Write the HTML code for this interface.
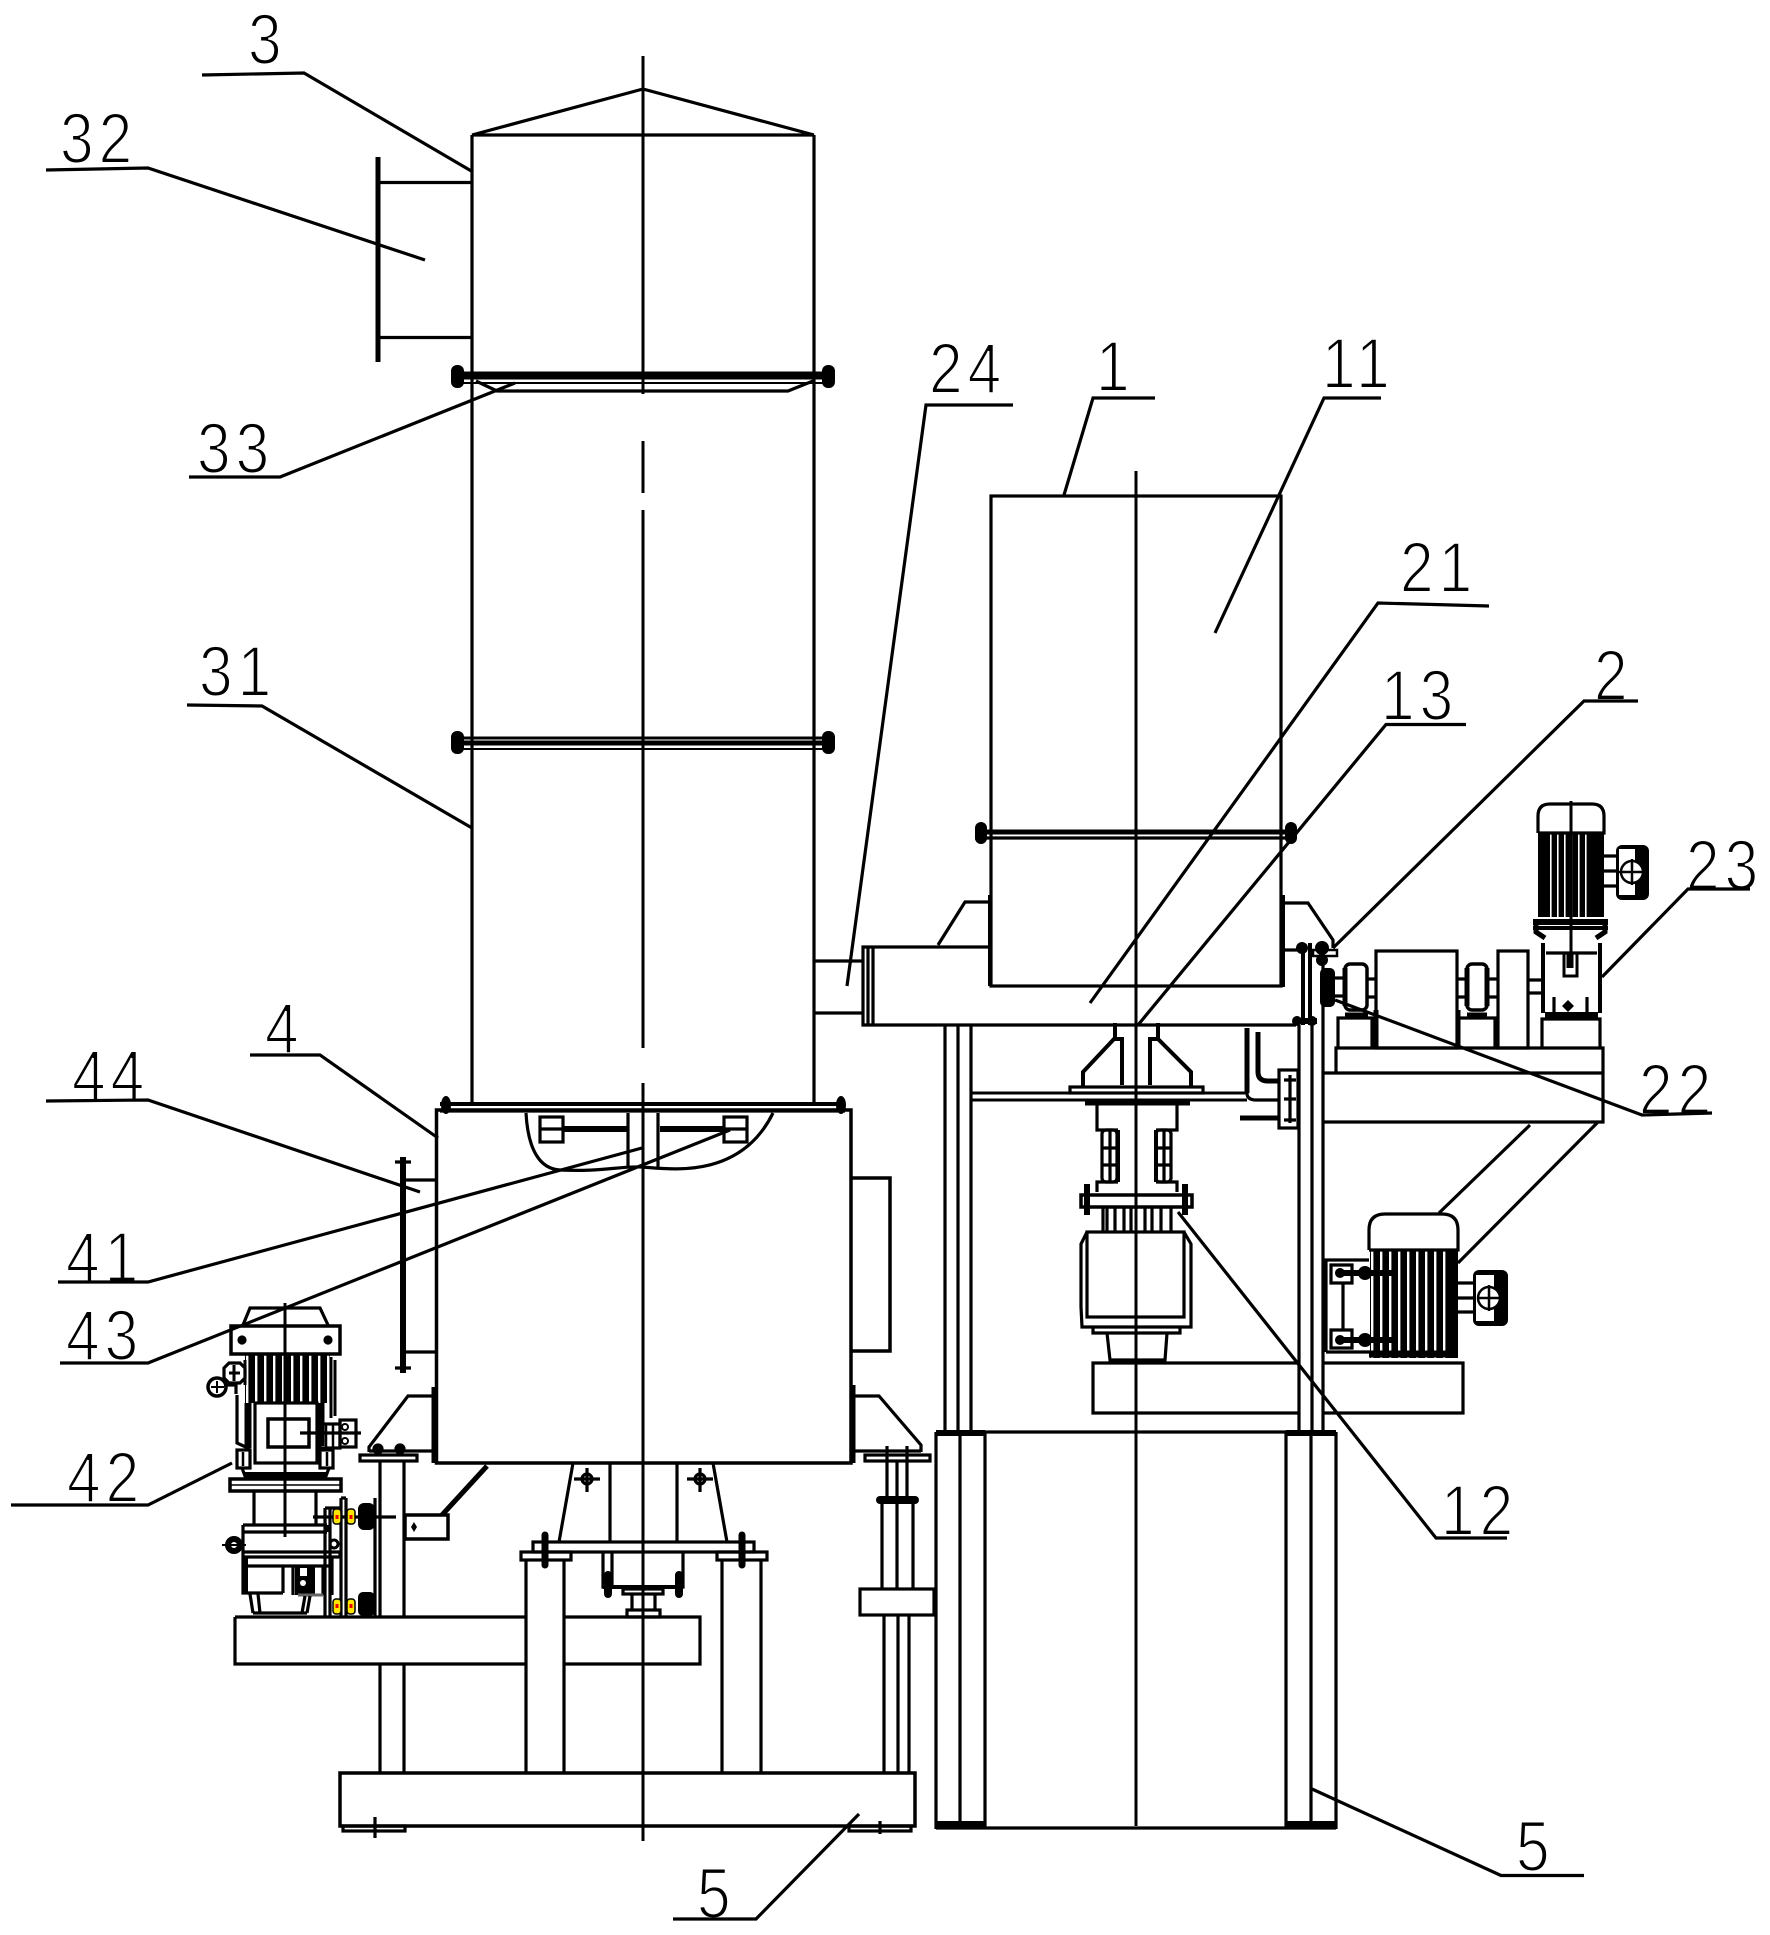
<!DOCTYPE html>
<html><head><meta charset="utf-8"><title>Diagram</title>
<style>html,body{margin:0;padding:0;background:#fff}svg{display:block}
text{font-family:"Liberation Sans",sans-serif;font-size:71px;fill:#000;stroke:#fff;stroke-width:2px;letter-spacing:6px}</style></head>
<body>
<svg xmlns="http://www.w3.org/2000/svg" width="1770" height="1935" viewBox="0 0 1770 1935">
<defs>
<pattern id="fin" width="9" height="10" patternUnits="userSpaceOnUse"><rect width="9" height="10" fill="#000"/><rect x="3" width="2.4" height="10" fill="#fff"/></pattern>
<pattern id="fin2" width="7" height="10" patternUnits="userSpaceOnUse"><rect width="7" height="10" fill="#000"/><rect x="3" width="1.6" height="10" fill="#fff"/></pattern>
</defs>
<rect width="1770" height="1935" fill="#fff"/>
<!-- labels -->
<g>
<text transform="translate(248,64) scale(.85,1)">3</text>
<text transform="translate(60,163) scale(.85,1)">32</text>
<text transform="translate(197,473) scale(.85,1)">33</text>
<text transform="translate(929,393) scale(.85,1)">24</text>
<text transform="translate(1096,391) scale(.85,1)">1</text>
<text transform="translate(1322,388) scale(.85,1)">11</text>
<text transform="translate(1400,592) scale(.85,1)">21</text>
<text transform="translate(1381,720) scale(.85,1)">13</text>
<text transform="translate(1594,700) scale(.85,1)">2</text>
<text transform="translate(1686,890) scale(.85,1)">23</text>
<text transform="translate(1639,1114) scale(.85,1)">22</text>
<text transform="translate(199,696) scale(.85,1)">31</text>
<text transform="translate(265,1053) scale(.85,1)">4</text>
<text transform="translate(72,1100) scale(.85,1)">44</text>
<text transform="translate(66,1282) scale(.85,1)">41</text>
<text transform="translate(66,1360) scale(.85,1)">43</text>
<text transform="translate(67,1502) scale(.85,1)">42</text>
<text transform="translate(1441,1535) scale(.85,1)">12</text>
<text transform="translate(697,1918) scale(.85,1)">5</text>
<text transform="translate(1516,1871) scale(.85,1)">5</text>
</g>
<g fill="none" stroke="#000" stroke-width="3.2">
<!-- tower -->
<path d="M472,135V1105M814,135V1105M472,135H814M472,135L643,89L814,135"/>
<path d="M472,182.5H380M472,337.5H380"/>
<path d="M378,157V362" stroke-width="5"/>
<path d="M455,373H832" stroke-width="3"/><path d="M455,377H832" stroke-width="5"/><path d="M455,383H832" stroke-width="2"/>
<path d="M476,381L497,391H788L813,381"/>
<path d="M455,738H832" stroke-width="3"/><path d="M455,743H832" stroke-width="5"/><path d="M455,749H832" stroke-width="2"/>
<g fill="#000" stroke="none">
<rect x="451" y="365" width="13" height="23" rx="6"/><rect x="822" y="365" width="13" height="23" rx="6"/>
<rect x="451" y="731" width="13" height="23" rx="6"/><rect x="822" y="731" width="13" height="23" rx="6"/>
<rect x="975" y="822" width="12" height="22" rx="6"/><rect x="1285" y="822" width="12" height="22" rx="6"/>
<ellipse cx="446" cy="1105" rx="5" ry="9"/><ellipse cx="841" cy="1105" rx="5" ry="9"/>
</g>
<!-- stub 24 -->
<path d="M814,961H863M814,1013H863"/>
<!-- box 4 -->
<rect x="436.5" y="1110" width="414.5" height="353" stroke-width="3.5"/>
<path d="M440,1104H845" stroke-width="4"/><path d="M440,1111H845"/>
<path d="M526,1113C528,1150 540,1169 560,1170C600,1172 620,1166 642,1167C670,1169 740,1180 773,1113"/>
<rect x="540" y="1117" width="23" height="25"/><rect x="724" y="1117" width="23" height="25"/>
<path d="M540,1129H563M724,1129H747"/>
<path d="M563,1129H628M660,1129H724" stroke-width="6"/>
<path d="M628,1113V1167M658,1113V1167"/>
<path d="M851,1178H890V1351H851" stroke-width="3.5"/>
<path d="M853,1385V1463" stroke-width="5"/>
<path d="M853,1396H879L921,1445V1452M853,1451H921"/>
<rect x="865" y="1455" width="65" height="6"/>
<path d="M887,1446V1497M907,1446V1497M897,1461V1497M882,1503V1590M897,1503V1590M913,1503V1590"/>
<path d="M880,1500H915" stroke-width="8" stroke-linecap="round"/>
<path d="M884,1615V1773M898,1615V1773M909,1615V1773"/>
<rect x="860" y="1589" width="74" height="26"/>
<path d="M434,1387V1463" stroke-width="5"/>
<path d="M434,1396H408L369,1447V1452M369,1451H434"/>
<rect x="360" y="1455" width="57" height="6"/>
<circle cx="378" cy="1449" r="4" fill="#000"/><circle cx="400" cy="1449" r="4" fill="#000"/>
<path d="M380,1461V1617M404,1461V1617M380,1664V1773M404,1664V1773"/>
<!-- rail -->
<path d="M235,1617H526M564,1617H700V1664H564M526,1664H235V1617"/>
<!-- centre supports -->
<path d="M573,1463L559,1542M610,1463V1542M677,1463V1542M713,1463L727,1542"/>
<rect x="533" y="1542" width="221" height="10"/>
<rect x="521" y="1552" width="50" height="8"/><rect x="717" y="1552" width="50" height="8"/>
<path d="M526,1560V1773M564,1560V1773M722,1560V1773M761,1560V1773"/>
<path d="M545,1535V1565M742,1535V1565" stroke-width="7" stroke-linecap="round"/>
<path d="M587,1468V1492M574,1479H600M700,1468V1492M687,1479H713"/><circle cx="587" cy="1479" r="5"/><circle cx="700" cy="1479" r="5"/>
<path d="M603,1552V1587H683V1552M612,1552V1587"/>
<path d="M603,1587H683" stroke-width="4"/>
<path d="M608,1575V1594M679,1575V1594" stroke-width="8" stroke-linecap="round"/>
<rect x="623" y="1589" width="40" height="5"/>
<path d="M632,1594V1610M655,1594V1610"/>
<rect x="627" y="1610" width="33" height="7"/>
<!-- base -->
<rect x="340" y="1773" width="575" height="53" stroke-width="3.5"/>
<rect x="343" y="1826" width="62" height="5"/><rect x="849" y="1826" width="62" height="5"/>
<path d="M375,1817V1838M880,1821V1834"/>
<!-- hopper -->
<rect x="991" y="496" width="290" height="490"/>
<path d="M975,832H1296" stroke-width="5"/><path d="M975,838H1296"/>
<path d="M990,895V986M1283,895V987" stroke-width="4"/>
<path d="M1283,903H1308L1333,940V948M989,902H965L938,945"/>
<!-- trough -->
<path d="M990,947H863V1025H1296M1283,950H1298"/>
<path d="M868,947V1025M873,947V1025"/>
<!-- frame -->
<path d="M945,1025V1430M958,1025V1430M971,1025V1430M1299,1025V1430M1312,1025V1430M1323,950V1430"/>
<path d="M936,1432V1829M960,1432V1829M985,1432V1829M1286,1432V1829M1311,1432V1829M1336,1432V1829"/>
<path d="M936,1432H1336M936,1828H1336"/>
<path d="M936,1433H985M1286,1433H1336M936,1824H985M1286,1824H1336" stroke-width="6"/>
<!-- beam -->
<path d="M971,1093H1203M971,1100H1247M1203,1093H1247" stroke-width="3"/>
<path d="M1247,1028V1093" stroke-width="5"/>
<path d="M1247,1093Q1247,1100 1256,1100H1279"/>
<path d="M1258,1032V1072Q1258,1081 1268,1081H1279" stroke-width="5"/>
<rect x="1279" y="1070" width="19" height="58"/>
<path d="M1290,1075V1123M1284,1080H1296M1284,1099H1296M1284,1120H1296"/>
<path d="M1240,1118H1279" stroke-width="5"/>
<!-- cone -->
<path d="M1115,1023V1039M1158,1023V1039" stroke-width="4"/>
<path d="M1122,1085V1039H1114L1083,1072V1087M1150,1085V1039H1158L1191,1072V1087" stroke-width="4"/>
<rect x="1070" y="1087" width="133" height="6"/>
<path d="M1085,1103H1190" stroke-width="5"/>
<path d="M1118,1130H1097V1103M1156,1130H1177V1103"/>
<rect x="1102" y="1130" width="15" height="52" rx="4"/><rect x="1156" y="1130" width="15" height="52" rx="4"/>
<path d="M1110,1130V1182M1164,1130V1182M1102,1148H1117M1102,1165H1117M1156,1148H1171M1156,1165H1171"/>
<path d="M1118,1130V1182M1156,1130V1182" stroke-width="4"/>
<path d="M1118,1182H1097V1192M1156,1182H1177V1192"/>
<rect x="1081" y="1195" width="111" height="12" stroke-width="3.5"/>
<path d="M1087,1184V1215M1185,1184V1215" stroke-width="6"/>
<path d="M1103,1207V1232M1107,1207V1232M1115,1207V1232M1124,1207V1232M1131,1207V1232M1145,1207V1232M1152,1207V1232M1161,1207V1232M1171,1207V1232"/>
<rect x="1087" y="1232" width="97" height="85"/>
<path d="M1087,1232L1081,1244V1307L1082,1327H1191V1244L1184,1232M1093,1327V1333H1180V1327"/>
<path d="M1107,1333L1110,1360H1165L1167,1333"/>
<!-- slab -->
<path d="M1299,1363H1093V1413H1299M1323,1363H1463V1413H1323"/>
<!-- lower right motor -->
<path d="M1326,1352V1260H1369M1326,1352H1370M1331,1265H1352V1283H1331V1265ZM1331,1330H1352V1348H1331V1330ZM1343,1283V1330"/>
<rect x="1370" y="1249" width="87" height="109" fill="url(#fin)" stroke="none"/>
<rect x="1447" y="1249" width="11" height="109" fill="#000" stroke="none"/>
<path d="M1369,1354H1457" stroke-width="7"/>
<path d="M1369,1250V1230Q1369,1214 1385,1214H1442Q1458,1214 1458,1230V1250H1369"/>
<path d="M1337,1273H1392M1337,1340H1392" stroke-width="6"/>
<g fill="#000" stroke="none"><circle cx="1340" cy="1273" r="5"/><circle cx="1340" cy="1340" r="5"/><circle cx="1365" cy="1273" r="7"/><circle cx="1365" cy="1340" r="7"/></g>
<path d="M1458,1283H1473M1458,1298H1473M1458,1312H1473"/>
<rect x="1473" y="1270" width="35" height="56" rx="6" fill="#000" stroke="none"/>
<rect x="1476" y="1275" width="18" height="46" fill="#fff" stroke="none"/>
<circle cx="1489" cy="1298" r="11" fill="#fff" stroke-width="2.5"/><path d="M1489,1285V1311M1478,1298H1500" stroke-width="2.5"/>
<path d="M1530,1125L1439,1213M1598,1122L1458,1263"/>
<!-- upper platform -->
<path d="M1323,1073H1603V1122H1323M1336,1073V1048H1603V1122"/>
<path d="M1338,1048V1018H1372V1048M1458,1048V1018H1495V1048M1542,1048V1019H1600V1048"/>
<path d="M1345,1015H1368" stroke-width="5"/><path d="M1467,1015H1487" stroke-width="5"/><path d="M1545,1015H1598" stroke-width="6"/>
<rect x="1376" y="951" width="81" height="97"/>
<rect x="1498" y="951" width="30" height="97"/>
<path d="M1376,1010V1048M1458,1010V1048" stroke-width="5"/>
<rect x="1345" y="964" width="22" height="46" rx="5" stroke-width="3.5"/>
<path d="M1367,979H1376M1367,997H1376M1458,979H1467M1458,997H1467M1487,979H1498M1487,997H1498M1335,978H1345M1335,996H1345"/>
<rect x="1467" y="964" width="20" height="46" rx="5" stroke-width="3.5"/>
<path d="M1345,968V1006M1467,968V1006M1487,968V1006" stroke-width="5"/>
<rect x="1320" y="968" width="15" height="39" rx="5" fill="#000" stroke="none"/>
<!-- flange at trough end -->
<path d="M1303,943V1025M1310,943V1025" stroke-width="4"/>
<rect x="1313" y="950" width="24" height="6" stroke-width="2.5"/>
<g fill="#000" stroke="none"><circle cx="1302" cy="948" r="6"/><circle cx="1322" cy="948" r="7"/><circle cx="1322" cy="960" r="6"/><circle cx="1297" cy="1021" r="5"/><circle cx="1312" cy="1021" r="5"/></g>
<path d="M1294,1021H1317" stroke-width="6"/>
<!-- gearbox 23 -->
<path d="M1543,943V1013M1600,943V1013" stroke-width="4"/>
<path d="M1546,953H1597M1528,980H1542M1528,993H1542"/>
<rect x="1564" y="953" width="13" height="23" stroke-width="3"/>
<path d="M1570,952V968" stroke-width="7"/>
<path d="M1554,997V1013M1587,997V1013"/>
<path d="M1568,1000L1574,1006L1568,1012L1562,1006Z" fill="#000" stroke="none"/>
<path d="M1555,1016H1590" stroke-width="4"/>
<!-- motor 23 -->
<rect x="1538" y="833" width="66" height="84" fill="url(#fin2)" stroke="none"/>
<rect x="1538" y="833" width="12" height="84" fill="#000" stroke="none"/><rect x="1592" y="833" width="12" height="84" fill="#000" stroke="none"/>
<path d="M1538,833V816Q1538,804 1550,804H1592Q1604,804 1604,816V833H1538"/>
<path d="M1533,922H1608" stroke-width="6"/><path d="M1533,928H1608" stroke-width="4"/>
<path d="M1536,920V932L1545,938M1605,920V932L1596,938" stroke-width="5"/>
<path d="M1604,856H1616M1604,871H1616M1604,886H1616"/>
<rect x="1616" y="845" width="33" height="55" rx="6" fill="#000" stroke="none"/>
<rect x="1619" y="849" width="16" height="46" fill="#fff" stroke="none"/>
<circle cx="1632" cy="872" r="11" fill="#fff" stroke-width="2.5"/><path d="M1632,859V885M1619,872H1645" stroke-width="2.5"/>
<!-- left motor 42 -->
<rect x="245" y="1354" width="85" height="49" fill="url(#fin)" stroke="none"/>
<path d="M248,1403V1448" stroke-width="7"/><path d="M321,1403V1446" stroke-width="7"/>
<path d="M331,1357V1418" stroke-width="3"/><path d="M335,1360V1416" stroke-width="3"/>
<path d="M243,1325L250,1308H320L328,1325"/>
<rect x="231" y="1326" width="109" height="28" stroke-width="3.5"/>
<circle cx="242" cy="1340" r="3" fill="#000"/><circle cx="328" cy="1340" r="3" fill="#000"/>
<rect x="255" y="1403" width="62" height="60"/>
<rect x="268" y="1419" width="41" height="28" stroke-width="3.5"/>
<path d="M237,1395V1443L250,1449"/>
<path d="M229,1363H240L245,1368V1378L240,1383H229L224,1378V1368Z" fill="#fff"/>
<path d="M229,1373H240M234,1365V1381M245,1360V1385" stroke-width="3"/>
<circle cx="217" cy="1387" r="9" fill="#fff" stroke-width="3.5"/><path d="M211,1387H224M217,1381V1393" stroke-width="2"/><path d="M224,1385H236V1394" />
<path d="M300,1433H361" />
<rect x="320" y="1424" width="20" height="24"/><rect x="340" y="1420" width="16" height="27"/>
<path d="M326,1424V1448M333,1424V1448M340,1433H356" stroke-width="2.5"/>
<circle cx="345" cy="1427" r="3" stroke-width="2"/><circle cx="345" cy="1441" r="3" stroke-width="2"/>
<rect x="237" y="1450" width="13" height="18"/><rect x="320" y="1450" width="13" height="18"/>
<path d="M243,1452V1466M327,1452V1466" stroke-width="2.5"/>
<path d="M242,1468L245,1476H326L329,1468" /><path d="M245,1474H326" stroke-width="4"/>
<rect x="230" y="1479" width="111" height="12" stroke-width="3.5"/><path d="M230,1485H341" stroke-width="1.5"/>
<path d="M254,1491V1525M316,1491V1525"/>
<path d="M243,1525H327M243,1532H327M327,1525V1532M243,1552H340M243,1557H340M340,1552V1557M243,1525V1593H283M243,1566H332M332,1557V1595M283,1566V1593M293,1566V1595M323,1566V1595"/>
<path d="M246,1557V1593" stroke-width="4"/>
<circle cx="334" cy="1544" r="4" stroke-width="3"/>
<rect x="295" y="1566" width="20" height="29" fill="#000" stroke="none"/><rect x="300" y="1568" width="7" height="8" fill="#fff" stroke="none"/><circle cx="303" cy="1583" r="3" fill="#fff" stroke="none"/>
<path d="M298,1595H323" stroke="#666" stroke-width="3"/>
<path d="M250,1594L253,1613M258,1594L260,1613M305,1596L302,1613M310,1596L307,1613M253,1613H307"/>
<circle cx="234" cy="1545" r="9" fill="#000" stroke="none"/><circle cx="234" cy="1545" r="3" fill="#fff" stroke="none"/><path d="M222,1545H246" stroke-width="2"/>
<path d="M341,1498V1617M346,1498V1617M341,1498H346M325,1508V1617M330,1508V1617M325,1508H340M375,1498V1617" />
<path d="M313,1517H396"/>
<rect x="358" y="1503" width="17" height="27" rx="6" fill="#000" stroke="none"/>
<rect x="358" y="1592" width="17" height="24" rx="5" fill="#000" stroke="none"/>
<rect x="333" y="1509" width="8" height="15" rx="3" fill="#ffe600" stroke-width="1.5"/>
<rect x="347" y="1509" width="8" height="15" rx="3" fill="#ffe600" stroke-width="1.5"/>
<rect x="333" y="1599" width="8" height="15" rx="3" fill="#ffe600" stroke-width="1.5"/>
<rect x="347" y="1599" width="8" height="15" rx="3" fill="#ffe600" stroke-width="1.5"/>
<g fill="#e00" stroke="none"><rect x="335.5" y="1515" width="3" height="4"/><rect x="349.5" y="1515" width="3" height="4"/><rect x="335.5" y="1604" width="3" height="4"/><rect x="349.5" y="1604" width="3" height="4"/></g>
<rect x="405" y="1515" width="43" height="24" stroke-width="3.5"/>
<path d="M414,1522L417,1527L414,1532L411,1527Z" fill="#000" stroke="none"/>
<path d="M442,1515L487,1466" stroke-width="5"/>
<path d="M403,1157V1373" stroke-width="6"/><path d="M395,1162H411M395,1368H411"/>
<path d="M405,1180H436M405,1352H436"/>
<!-- centre lines -->
<path d="M643,56V394M643,441V493M643,510V1048M643,1083V1841" stroke-width="3"/>
<path d="M1136,471V1826M285,1303V1537M1571,801V953" stroke-width="3"/>
<!-- leaders -->
<path d="M202,75L304,73L473,172"/>
<path d="M46,170L148,168L425,260"/>
<path d="M189,477H280L515,383"/>
<path d="M1013,405H926L847,986"/>
<path d="M1155,398H1093L1064,495"/>
<path d="M1381,398H1324L1215,633"/>
<path d="M1489,606L1378,603L1090,1003"/>
<path d="M1466,724.5H1386L1138,1025"/>
<path d="M1638,701H1584L1333,948"/>
<path d="M1750,889H1688L1602,977"/>
<path d="M1712,1113L1642,1115L1335,1000"/>
<path d="M187,705L262,706L472,828"/>
<path d="M250,1055H320L438,1138"/>
<path d="M46,1101L148,1100L420,1192"/>
<path d="M58,1282H148L642,1148"/>
<path d="M60,1363H148L730,1130"/>
<path d="M11,1505H148L232,1463"/>
<path d="M1507,1538H1436L1178,1212"/>
<path d="M673,1919H756L859,1814"/>
<path d="M1584,1875.5H1501L1312,1789"/>
</g>
</svg>
</body></html>
